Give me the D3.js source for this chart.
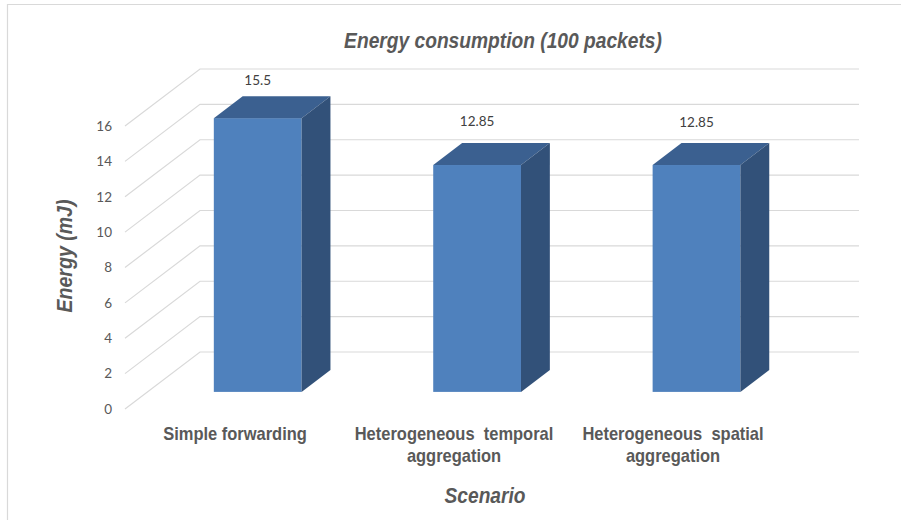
<!DOCTYPE html>
<html><head><meta charset="utf-8">
<script src="https://cdn.jsdelivr.net/npm/d3@7"></script>
<style>html,body{margin:0;padding:0;background:#fff}svg{display:block}</style>
</head><body><svg id="c" width="901" height="520"></svg>
<script>
const categories = [["Simple forwarding"],["Heterogeneous  temporal","aggregation"],["Heterogeneous  spatial","aggregation"]];
const values = [15.5,12.85,12.85];
const valueLabels = ["15.5","12.85","12.85"];
const yTicks = [0,2,4,6,8,10,12,14,16];
const titleText = "Energy consumption (100 packets)";
const xTitle = "Scenario";
const yTitle = "Energy (mJ)";

const svg = d3.select("#c");
const W=901,H=520;
const y = d3.scaleLinear().domain([0,16]).range([409,126]);
const x = d3.scaleBand().domain(d3.range(categories.length)).range([148,806.2]).paddingInner(0.6).paddingOuter(0.3);
const dx = d3.scaleLinear().domain([0,1]).range([0,75]);
const dy = d3.scaleLinear().domain([0,1]).range([0,-57]);
const barFront=0.3, barBack=0.685;
const barW=x.bandwidth();
const frontX=125, backEnd=859;

svg.append("path").attr("d",`M7.5,${H}V4.5H${W}`).attr("fill","none").attr("stroke","#d9d9d9").attr("stroke-width",1.2);

const grid=svg.append("g").attr("fill","none").attr("stroke","#d9d9d9").attr("stroke-width",1.2);
yTicks.forEach(t=>{
  const pts=[[frontX,y(t)],[frontX+dx(1),y(t)+dy(1)],[backEnd,y(t)+dy(1)]];
  grid.append("path").attr("d",d3.line()(pts));
});

const axis=d3.axisLeft(y).tickValues(yTicks).tickSize(0).tickPadding(0);
const ga=svg.append("g").attr("transform","translate(112,0)").call(axis);
ga.select(".domain").remove();
ga.selectAll("text").attr("font-family","Lato, 'Open Sans', sans-serif").attr("font-size",13.5).attr("fill","#595959").attr("dy","0.32em");

const bars=svg.append("g");
values.forEach((v,i)=>{
  const x0=x(i), x1=x0+barW;
  const yb=y(0)+dy(barFront), yt=y(v)+dy(barFront)+0.4;
  const ox=dx(barBack-barFront), oy=dy(barBack-barFront);
  bars.append("rect").attr("x",x0).attr("y",yt).attr("width",barW).attr("height",yb-yt).attr("fill","#4f81bd");
  bars.append("path").attr("d",d3.line()([[x0,yt],[x0+ox,yt+oy],[x1+ox,yt+oy],[x1,yt]])).attr("fill","#3b6090");
  bars.append("path").attr("d",d3.line()([[x1,yt],[x1+ox,yt+oy],[x1+ox,yb+oy],[x1,yb]])).attr("fill","#325179");
});

const labelOffset=[-37,-43,-42];
svg.append("g").selectAll("text").data(values).join("text")
  .attr("x",(d,i)=>x(i)+barW/2)
  .attr("y",(d,i)=>y(d)+dy(barFront)+labelOffset[i])
  .attr("dy","0.32em").attr("text-anchor","middle")
  .attr("font-family","Lato, 'Open Sans', sans-serif").attr("font-size",13.5).attr("fill","#404040")
  .text((d,i)=>valueLabels[i]);

const labelFont="'Liberation Sans', Arial, sans-serif";
function cond(cx,cy,rot,sx,size,italic,s){
  return svg.append("text")
    .attr("transform",`translate(${cx},${cy}) rotate(${rot}) scale(${sx},1)`)
    .attr("text-anchor","middle").style("white-space","pre")
    .attr("font-family",labelFont).attr("font-weight","bold").attr("font-style",italic?"italic":"normal")
    .attr("font-size",size).attr("fill","#595959").text(s);
}
const catX=[235,454,673];
categories.forEach((lines,i)=>{
  lines.forEach((s,j)=>cond(catX[i],440+j*22,0,0.915,18,false,s));
});
cond(503,48,0,0.853,22.5,true,titleText);
cond(485,503,0,0.89,21.5,true,xTitle);
cond(72,256,-90,0.91,21.5,true,yTitle);
</script></body></html>
